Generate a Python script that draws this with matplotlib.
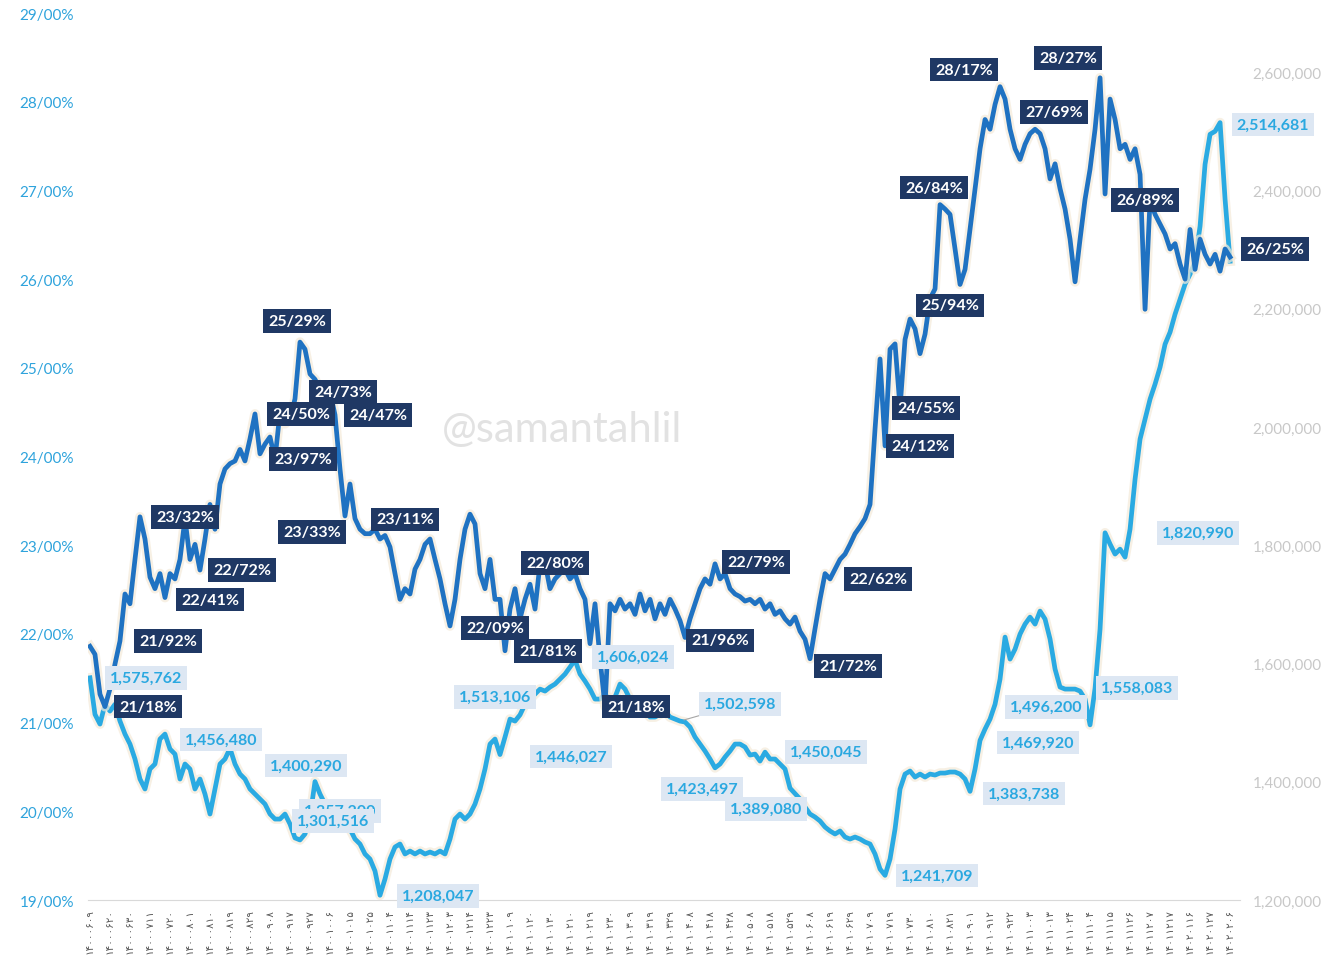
import numpy as np
import matplotlib.pyplot as plt
import matplotlib.patheffects as pe
from matplotlib.ticker import FuncFormatter, FixedLocator

plt.rcParams['font.family'] = ['Lato', 'DejaVu Sans']

# نسبت (درصد) - محور چپ
pct = [
    21.86, 21.77, 21.32, 21.18, 21.38, 21.66, 21.92, 22.45, 22.34, 22.84,
    23.32, 23.07, 22.64, 22.51, 22.68, 22.41, 22.68, 22.62, 22.84, 23.30,
    22.84, 23.01, 22.72, 23.07, 23.46, 23.18, 23.69, 23.86, 23.92, 23.95,
    24.08, 23.95, 24.20, 24.48, 24.03, 24.14, 24.22, 23.97, 24.50, 24.37,
    24.42, 24.65, 25.29, 25.21, 24.93, 24.87, 24.76, 24.70, 24.73, 24.47,
    23.86, 23.33, 23.69, 23.30, 23.18, 23.13, 23.13, 23.18, 23.07, 23.11,
    22.98, 22.68, 22.39, 22.51, 22.45, 22.73, 22.84, 23.01, 23.07, 22.84,
    22.62, 22.34, 22.09, 22.39, 22.84, 23.18, 23.35, 23.24, 22.68, 22.51,
    22.84, 22.39, 22.39, 21.81, 22.28, 22.51, 22.17, 22.39, 22.56, 22.28,
    22.79, 22.80, 22.51, 22.62, 22.68, 22.73, 22.62, 22.68, 22.51, 22.39,
    21.89, 22.34, 21.72, 21.18, 22.34, 22.26, 22.39, 22.28, 22.34, 22.22,
    22.45, 22.26, 22.39, 22.17, 22.34, 22.22, 22.39, 22.28, 22.15, 21.96,
    22.17, 22.34, 22.51, 22.62, 22.56, 22.79, 22.62, 22.68, 22.51, 22.45,
    22.42, 22.37, 22.39, 22.34, 22.39, 22.28, 22.34, 22.22, 22.26, 22.17,
    22.11, 22.19, 22.03, 21.94, 21.72, 22.06, 22.39, 22.68, 22.62, 22.73,
    22.84, 22.90, 23.01, 23.13, 23.21, 23.30, 23.46, 24.31, 25.10, 24.12,
    25.21, 25.27, 24.55, 25.32, 25.55, 25.44, 25.16, 25.38, 25.78, 25.89,
    26.84, 26.79, 26.73, 26.34, 25.94, 26.11, 26.56, 27.02, 27.47, 27.80,
    27.69, 27.97, 28.17, 28.03, 27.69, 27.47, 27.35, 27.52, 27.64, 27.69,
    27.64, 27.47, 27.13, 27.30, 27.02, 26.79, 26.45, 25.97, 26.45, 26.90,
    27.24, 27.69, 28.27, 26.96, 28.03, 27.80, 27.47, 27.52, 27.35, 27.47,
    27.18, 25.66, 26.89, 26.73, 26.62, 26.51, 26.34, 26.40, 26.17, 26.00,
    26.56, 26.11, 26.45, 26.28, 26.17, 26.28, 26.09, 26.34, 26.25,
]

# ارزش - محور راست
val = [
    1575762, 1514000, 1497500, 1531000, 1519500, 1531000, 1502600, 1480600, 1463700, 1438400,
    1404600, 1387700, 1421500, 1430000, 1472200, 1480600, 1455300, 1446800, 1404600, 1430000,
    1421500, 1387700, 1404600, 1379200, 1345400, 1387700, 1430000, 1438400, 1456480, 1430000,
    1413000, 1404600, 1387700, 1379200, 1370800, 1362300, 1345400, 1336900, 1336900, 1345400,
    1328500, 1305000, 1301516, 1311600, 1340300, 1400290, 1379200, 1362300, 1357200, 1362300,
    1345400, 1336900, 1320000, 1303100, 1294700, 1277800, 1269300, 1249000, 1208047, 1235500,
    1269300, 1289600, 1294700, 1277800, 1282800, 1277800, 1282800, 1277800, 1281100, 1277800,
    1282800, 1277800, 1303100, 1336900, 1345400, 1336900, 1345400, 1362300, 1387700, 1421500,
    1463700, 1472200, 1446027, 1475600, 1506000, 1502600, 1513106, 1531000, 1539800, 1548300,
    1556700, 1553300, 1560100, 1565200, 1573600, 1582100, 1593900, 1606024, 1582100, 1570200,
    1556700, 1539800, 1539800, 1548300, 1539800, 1543200, 1565200, 1556700, 1539800, 1522900,
    1519500, 1519500, 1509400, 1509400, 1514000, 1519500, 1509400, 1506000, 1502598, 1501000,
    1492500, 1475600, 1463700, 1451900, 1438400, 1423497, 1430000, 1441800, 1451900, 1463700,
    1463700, 1458700, 1445100, 1446800, 1435000, 1450045, 1438400, 1438400, 1430000, 1421500,
    1389080, 1380000, 1370800, 1357200, 1345400, 1340300, 1333600, 1323400, 1316700, 1311600,
    1316700, 1306500, 1303100, 1306500, 1303100, 1298100, 1294700, 1277800, 1252400, 1241709,
    1269300, 1320000, 1387700, 1413000, 1418100, 1407900, 1413000, 1407900, 1413000, 1411300,
    1414700, 1414700, 1416400, 1416400, 1413000, 1404600, 1383738, 1421500, 1469920, 1489100,
    1506000, 1531000, 1573600, 1644600, 1607400, 1624300, 1649700, 1666600, 1678400, 1666600,
    1688600, 1675100, 1641200, 1590500, 1560100, 1556700, 1556700, 1556700, 1553300, 1539800,
    1496200, 1558083, 1658200, 1820990, 1801900, 1785000, 1793400, 1779900, 1827200, 1911700,
    1979400, 2013200, 2047000, 2072400, 2101100, 2140000, 2160300, 2190700, 2216100, 2241400,
    2258300, 2280300, 2339500, 2444300, 2495000, 2500000, 2514681, 2385100, 2280300,
]

# تاریخ‌های محور افقی (هر ۴ نقطه یک برچسب)
dates = [
    '14000609', '14000620', '14000630', '14000711', '14000720', '14000801', '14000810',
    '14000819', '14000829', '14000908', '14000917', '14000927', '14001006', '14001015',
    '14001025', '14001104', '14001114', '14001123', '14001203', '14001214', '14001223',
    '14010109', '14010120', '14010130', '14010210', '14010219', '14010230', '14010309',
    '14010319', '14010329', '14010408', '14010418', '14010428', '14010508', '14010518',
    '14010529', '14010608', '14010619', '14010629', '14010709', '14010719', '14010730',
    '14010810', '14010821', '14010901', '14010912', '14010922', '14011003', '14011013',
    '14011024', '14011104', '14011115', '14011126', '14011207', '14011217',
    '14020116', '14020127', '14020206',
]
date_step = 4

# برچسب‌ها: (اندیس نقطه، جابجایی افقی، جابجایی عمودی رو به پایین) به پیکسل
pct_labels = [
    (3, 43, 0), (6, 48, 0), (10, 45, 0), (15, 45, 2), (22, 42, 0),
    (42, -3, -21), (38, 21, 2), (48, 13, 0), (49, 43, 0), (37, 28, 0),
    (51, -33, 16), (59, 20, -16), (91, 10, 0), (72, 45, 2), (83, 43, 0),
    (103, 31, 0), (119, 35, 3), (125, 41, -2), (144, 38, 7), (148, 48, 0),
    (159, 35, 0), (162, 26, 0), (174, -10, 21), (170, -6, -17), (182, -36, -17),
    (189, 19, -17), (202, -32, -20), (212, -5, 0), (228, 45, -8),
]
val_labels = [
    (0, 56, 0), (28, -9, -9), (45, -9, -16), (48, 10, 4), (42, 33, -19),
    (58, 58, 1), (86, -25, -18), (82, 71, 2), (97, 58, -3), (118, 60, -17),
    (125, -13, 21), (140, -24, 21), (135, 61, 0), (159, 52, 0), (176, 54, 2),
    (178, 58, 2), (200, -44, -18), (201, 42, 0), (203, 93, 0), (226, 53, 2),
]

fa_digits = str.maketrans('0123456789', '۰۱۲۳۴۵۶۷۸۹')
x = np.arange(len(pct))

fig = plt.figure(figsize=(13.37, 9.62), dpi=100)
ax2 = fig.add_axes([0.0658, 0.0634, 0.8617, 0.922])
ax1 = ax2.twinx()
# خط درصد روی خط ارزش کشیده شود
ax1.yaxis.tick_left()
ax2.yaxis.tick_right()
ax1.set_zorder(ax2.get_zorder() + 1)
ax1.patch.set_visible(False)

glow = [pe.Stroke(linewidth=7, foreground='#f4ead9', alpha=0.7), pe.Normal()]
ax2.plot(x, val, color='#2aaae2', lw=3.4, solid_joinstyle='round', path_effects=glow)
ax1.plot(x, pct, color='#1f72c2', lw=3.4, solid_joinstyle='round', path_effects=glow)

ax1.set_ylim(19, 29)
ax1.set_yticks(np.arange(19, 30, 1))
ax1.yaxis.set_major_formatter(FuncFormatter(lambda v, p: f'{v:.2f}'.replace('.', '/') + '%'))
ax1.tick_params(axis='y', length=0, labelsize=11, labelcolor='#2ea3dc', pad=10)

ax2.set_ylim(1200000, 2700000)
ax2.set_yticks(np.arange(1200000, 2600001, 200000))
ax2.yaxis.set_major_formatter(FuncFormatter(lambda v, p: f'{v:,.0f}'))
ax2.tick_params(axis='y', length=0, labelsize=11, labelcolor='#c8c8c8', pad=9)

ax2.set_xlim(-0.4, len(pct) + 1)
ax2.xaxis.set_major_locator(FixedLocator(np.arange(0, len(dates) * date_step, date_step)))
ax2.set_xticklabels([d.translate(fa_digits) for d in dates], rotation=90,
                    fontsize=7.5, color='#595959', family=['DejaVu Sans'])
ax2.tick_params(axis='x', length=0, pad=6)

for ax in (ax1, ax2):
    for s in ('top', 'left', 'right'):
        ax.spines[s].set_visible(False)
    ax.spines['bottom'].set_color('#d9d9d9')
ax1.spines['bottom'].set_visible(False)

# واترمارک
fig.text(0.42, 0.553, '@samantahlil', fontsize=30, color='#d6d6d6', alpha=0.7,
         ha='center', va='center', zorder=0)

for i, dx, dy in pct_labels:
    t = f'{pct[i]:.2f}'.replace('.', '/') + '%'
    ax1.annotate(t, xy=(x[i], pct[i]), xytext=(dx, -dy), textcoords='offset pixels',
                 ha='center', va='center', fontsize=11.5, fontweight='bold', color='white',
                 bbox=dict(boxstyle='square,pad=0.3', fc='#1f3864', ec='none'), zorder=10)

for i, dx, dy in val_labels:
    arrow = None
    if i == 118:
        arrow = dict(arrowstyle='-', color='#a6a6a6', lw=0.8, shrinkA=0, shrinkB=3)
    ax1.annotate(f'{val[i]:,}', xy=(x[i], val[i]), xycoords=ax2.transData,
                 xytext=(dx, -dy), textcoords='offset pixels',
                 ha='center', va='center', fontsize=11.5, fontweight='bold', color='#2aa8e0',
                 bbox=dict(boxstyle='square,pad=0.3', fc='#dde7f3', ec='none'),
                 arrowprops=arrow, zorder=8 if i == 48 else 9)

fig.savefig('out.png', dpi=100, facecolor='white')
